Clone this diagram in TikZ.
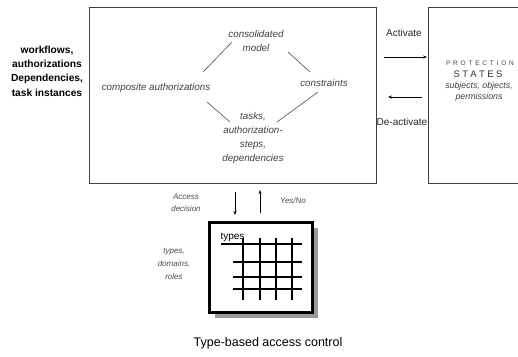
\documentclass[tikz,border=0pt]{standalone}
\usepackage{fontspec}
\setmainfont{Liberation Sans}
\usetikzlibrary{arrows.meta}
\begin{document}
\begin{tikzpicture}[x=1pt,y=-1pt,
  lab/.style={font=\itshape\fontsize{9.8}{14}\selectfont, text=black!75, align=center, inner sep=0pt},
  small/.style={font=\itshape\fontsize{8}{12.5}\selectfont, text=black!70, align=center, inner sep=0pt},
  plain/.style={font=\fontsize{10}{12}\selectfont, text=black!85, inner sep=0pt},
  link/.style={black!70, line width=0.6pt},
  arr/.style={black, line width=0.8pt, -{Stealth[length=4pt,width=3pt]}},
  frame/.style={black!75, line width=0.8pt},
  gridl/.style={black, line width=1.1pt}]
\useasboundingbox (0,0) rectangle (518,356);
\fill[white] (0,0) rectangle (518,356);
% main box
\node[frame, draw, minimum width=287pt, minimum height=176pt, anchor=north west, inner sep=0pt] (main) at (89,7) {};
% right box (clipped at picture edge)
\coordinate (rtop) at (522,7);
\coordinate (rbot) at (522,183);
\draw[frame] (rtop) -- (428,7) -- (428,183) -- (rbot);
% left text
\node[font=\bfseries\fontsize{10.2}{14.4}\selectfont, align=center, inner sep=0pt] (wf) at (47,71)
  {workflows,\\authorizations\\Dependencies,\\task instances};
% inner labels
\node[lab] (cons) at (256,41) {consolidated\\model};
\node[lab] (comp) at (156,88) {composite authorizations};
\node[lab] (constr) at (324,83) {constraints};
\node[lab, font=\itshape\fontsize{9.8}{13.7}\selectfont] (tasks) at (253,138) {tasks,\\authorization-\\steps,\\dependencies};
\coordinate (a1) at (203,72); \coordinate (a2) at (232,42);
\coordinate (b1) at (288,52); \coordinate (b2) at (310,72);
\coordinate (c1) at (318,92); \coordinate (c2) at (277,122);
\coordinate (d1) at (207,102); \coordinate (d2) at (230,122);
\draw[link] (a1) -- (a2);
\draw[link] (b1) -- (b2);
\draw[link] (c1) -- (c2);
\draw[link] (d1) -- (d2);
% activate / deactivate
\node[plain] (act) at (404,33) {Activate};
\node[plain] (deact) at (402,122) {De-activate};
\coordinate (act1) at (384,57); \coordinate (act2) at (427,57);
\coordinate (de1) at (422,97); \coordinate (de2) at (388,97);
\draw[arr] (act1) -- (act2);
\draw[arr] (de1) -- (de2);
% protection states
\node[font=\fontsize{6.5}{7}\selectfont, text=black!75, inner sep=0pt] (prot) at (480,63)
  {P\hspace{2.8pt}R\hspace{2.8pt}O\hspace{2.8pt}T\hspace{2.8pt}E\hspace{2.8pt}C\hspace{2.8pt}T\hspace{2.8pt}I\hspace{2.8pt}O\hspace{2.8pt}N};
\node[font=\fontsize{9.5}{10}\selectfont, text=black!80, inner sep=0pt] (states) at (478,74)
  {S\hspace{2.4pt}T\hspace{2.4pt}A\hspace{2.4pt}T\hspace{2.4pt}E\hspace{2.4pt}S};
\node[font=\itshape\fontsize{8.8}{11}\selectfont, text=black!75, align=center, inner sep=0pt] (subj) at (479,92) {subjects, objects,\\permissions};
% bottom
\node[small] (acc) at (186,203) {Access\\decision};
\node[small] (yn) at (293,201) {Yes/No};
\coordinate (dn1) at (235,192); \coordinate (dn2) at (235,215);
\coordinate (up1) at (260,213); \coordinate (up2) at (260,190);
\draw[arr] (dn1) -- (dn2);
\draw[arr] (up1) -- (up2);
\node[small, font=\itshape\fontsize{8}{13}\selectfont] (tdr) at (174,264) {types,\\domains,\\roles};
% types box
\fill[black!40] (215,228) rectangle (318,318);
\node[draw, line width=3pt, fill=white, minimum width=103pt, minimum height=90pt, inner sep=0pt] (tbox) at (260.5,267) {};
\draw[gridl] (221,244) -- (302,244);
\foreach \yy in {262,277,289} \draw[gridl] (233,\yy) -- (302,\yy);
\foreach \xx in {243,260,276,292} \draw[gridl] (\xx,238) -- (\xx,300);
\node[font=\fontsize{10}{10}\selectfont, inner sep=0pt] (types) at (232.5,237) {types};
\node[font=\fontsize{12.5}{14}\selectfont, inner sep=0pt] (title) at (268,343) {Type-based access control};
\end{tikzpicture}
\end{document}
